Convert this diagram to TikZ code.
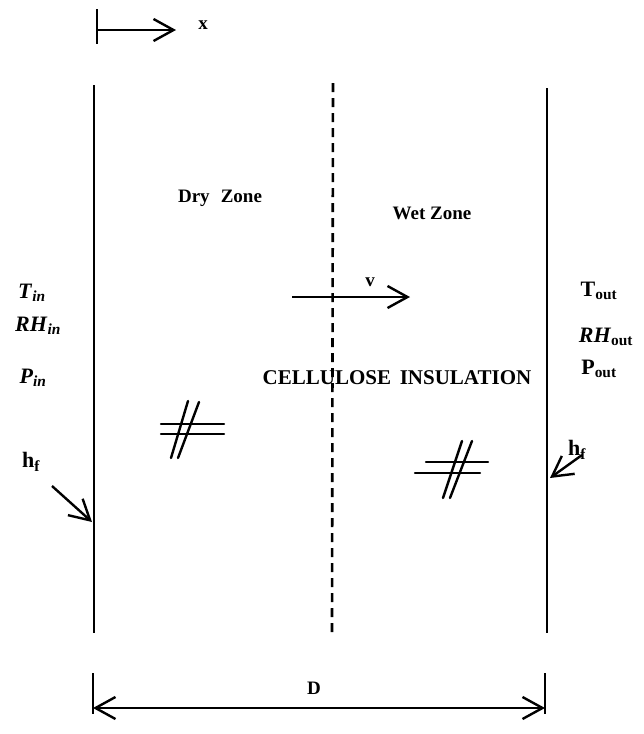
\documentclass[tikz,border=0pt]{standalone}
\usepackage{fontspec}
\setmainfont{Liberation Serif}
\usetikzlibrary{arrows.meta}
\newcommand{\lowsub}[1]{\textsubscript{#1}}
\tikzset{
  wall/.style={line width=2.6pt},
  barb/.style={line width=2.4pt,-{Straight Barb[length=20pt,width=22pt,line width=2.4pt]}},
  dbarb/.style={line width=2.4pt,{Straight Barb[length=20pt,width=22pt,line width=2.4pt]}-{Straight Barb[length=20pt,width=22pt,line width=2.4pt]}},
  midline/.style={line width=2.6pt,dash pattern=on 9pt off 6pt},
  hashline/.style={line width=2.4pt,line cap=round},
  lbl/.style={font=\fontsize{19}{22}\selectfont\bfseries,inner sep=0pt},
  var/.style={font=\fontsize{22}{26}\selectfont\bfseries,inner sep=0pt},
  zone/.style={font=\fontsize{19}{22}\selectfont\bfseries,inner sep=0pt},
}
\begin{document}
\begin{tikzpicture}[x=1pt,y=-1pt]
\useasboundingbox (0,0) rectangle (644,734);
% x axis indicator
\coordinate (xs) at (97,30);
\coordinate (xe) at (176,30);
\draw[wall] (97,9) -- (97,44);
\draw[barb] (xs) -- (xe);
\node[lbl] (xl) at (203,25) {x};
% walls
\coordinate (lwt) at (94,85);
\coordinate (lwb) at (94,633);
\coordinate (rwt) at (547,88);
\coordinate (rwb) at (547,633);
\draw[wall] (lwt) -- (lwb);
\draw[wall] (rwt) -- (rwb);
% front
\coordinate (mt) at (333,83);
\coordinate (mb) at (332,634);
\draw[midline] (mt) -- (mb);
% zone labels
\node[zone] (dry) at (220,198) {Dry\,\, Zone};
\node[zone] (wet) at (432,213) {Wet Zone};
% velocity
\coordinate (vs) at (292,297);
\coordinate (ve) at (410,297);
\draw[barb] (vs) -- (ve);
\node[lbl] (vl) at (370,282) {v};
% insulation label
\node[font=\fontsize{21}{25}\selectfont\bfseries,inner sep=0pt] (ins) at (397,378) {CELLULOSE\, INSULATION};
% inside conditions
\node[var] (tin) at (32,293) {\textit{T}\lowsub{\textit{in}}};
\node[var] (rhin) at (38,326) {\textit{RH}\lowsub{\textit{in}}};
\node[var] (pin) at (33,378) {\textit{P}\lowsub{\textit{in}}};
\node[var] (hfl) at (31,462) {h\lowsub{f}};
\coordinate (hfls) at (52,486);
\coordinate (hflt) at (92,522);
\draw[barb] (hfls) -- (hflt);
% outside conditions
\node[var] (tout) at (599,291) {T\lowsub{out}};
\node[var] (rhout) at (606,337) {\textit{RH}\lowsub{out}};
\node[var] (pout) at (599,369) {P\lowsub{out}};
\node[var] (hfr) at (577,450) {h\lowsub{f}};
\coordinate (hfrs) at (582,455);
\coordinate (hfrt) at (550,478);
\draw[barb] (hfrs) -- (hfrt);
% hash marks
\draw[hashline] (161,424) -- (224,424);
\draw[hashline] (161,434) -- (224,434);
\draw[hashline] (171,458) -- (188,401);
\draw[hashline] (178,458) -- (199,402);
\draw[hashline] (426,462) -- (488,462);
\draw[hashline] (415,473) -- (480,473);
\draw[hashline] (443,498) -- (462,441);
\draw[hashline] (450,498) -- (472,441);
% dimension
\draw[wall] (93,673) -- (93,714);
\draw[wall] (545,673) -- (545,714);
\coordinate (dl) at (93,708);
\coordinate (dr) at (545,708);
\draw[dbarb] (dl) -- (dr);
\node[lbl] (dlbl) at (314,688) {D};
\end{tikzpicture}
\end{document}
